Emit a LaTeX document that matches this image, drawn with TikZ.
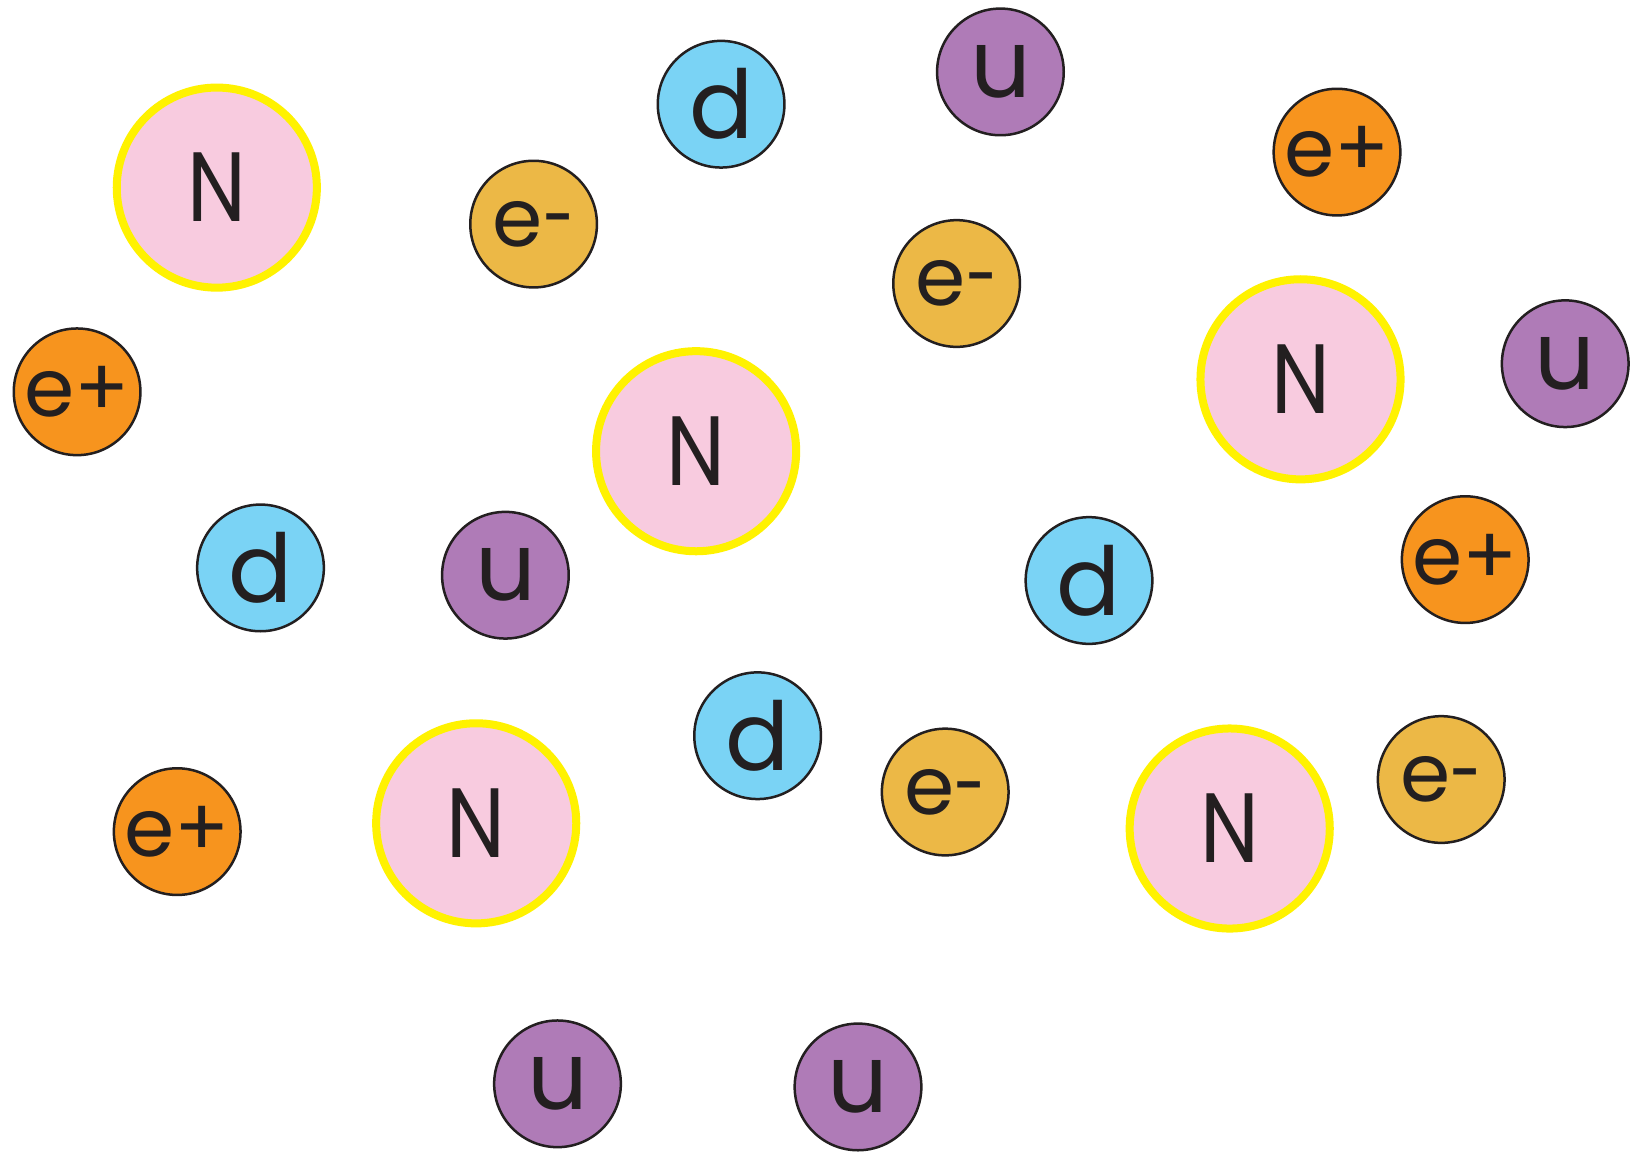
\documentclass[tikz,border=0pt]{standalone}
\usepackage{fontspec}
\setmainfont{Poppins}
\definecolor{nucpink}{HTML}{F8CBDF}
\definecolor{nucrim}{HTML}{FFF200}
\definecolor{posorange}{HTML}{F7941E}
\definecolor{elegold}{HTML}{ECB846}
\definecolor{downblue}{HTML}{7AD3F5}
\definecolor{upviolet}{HTML}{AF7BB7}
\definecolor{inkdark}{HTML}{231F20}
\newcommand{\nuc}{\scalebox{0.85}[1]{N}}
\newcommand{\elm}{e\scalebox{0.7}[1]{-}}
\begin{document}
\begin{tikzpicture}[x=0.01cm, y=-0.01cm,
  particle/.style={circle, draw=inkdark, line width=0.025cm, minimum size=1.266cm, inner sep=0pt, text=inkdark, font=\fontsize{27}{27}\selectfont},
  nucleon/.style={circle, draw=nucrim, fill=nucpink, line width=0.08cm, minimum size=2.0cm, inner sep=0pt, text=inkdark, font=\fontsize{28}{28}\selectfont},
  eplus/.style={particle, fill=posorange, font=\fontsize{23}{23}\selectfont},
  eminus/.style={particle, fill=elegold, font=\fontsize{23}{23}\selectfont},
  dquark/.style={particle, fill=downblue},
  uquark/.style={particle, fill=upviolet}]
  \useasboundingbox[fill=white] (0,0) rectangle (1634,1151);
  % nucleons
  \node[nucleon] (n1) at (216.8,187.6) {\nuc};
  \node[nucleon] (n2) at (1300.5,379.3) {\nuc};
  \node[nucleon] (n3) at (696.1,451.2) {\nuc};
  \node[nucleon] (n4) at (476.2,823.3) {\nuc};
  \node[nucleon] (n5) at (1229.7,828.5) {\nuc};
  % positrons
  \node[eplus] (ep1) at (77.1,391.8) {e+};
  \node[eplus] (ep2) at (177.2,831.6) {e+};
  \node[eplus] (ep3) at (1337.0,152.1) {e+};
  \node[eplus] (ep4) at (1465.2,559.6) {e+};
  % electrons
  \node[eminus] (em1) at (533.6,224.1) {\elm};
  \node[eminus] (em2) at (956.6,283.5) {\elm};
  \node[eminus] (em3) at (945.2,792.0) {\elm};
  \node[eminus] (em4) at (1441.2,779.5) {\elm};
  % down quarks
  \node[dquark] (d1) at (260.5,567.9) {d};
  \node[dquark] (d2) at (721.1,104.2) {d};
  \node[dquark] (d3) at (1089.0,580.5) {d};
  \node[dquark] (d4) at (757.6,735.7) {d};
  % up quarks
  \node[uquark] (u1) at (1000.4,71.9) {u};
  \node[uquark] (u2) at (1565.2,363.7) {u};
  \node[uquark] (u3) at (505.4,575.2) {u};
  \node[uquark] (u4) at (557.5,1083.8) {u};
  \node[uquark] (u5) at (858.0,1086.9) {u};
\end{tikzpicture}
\end{document}
